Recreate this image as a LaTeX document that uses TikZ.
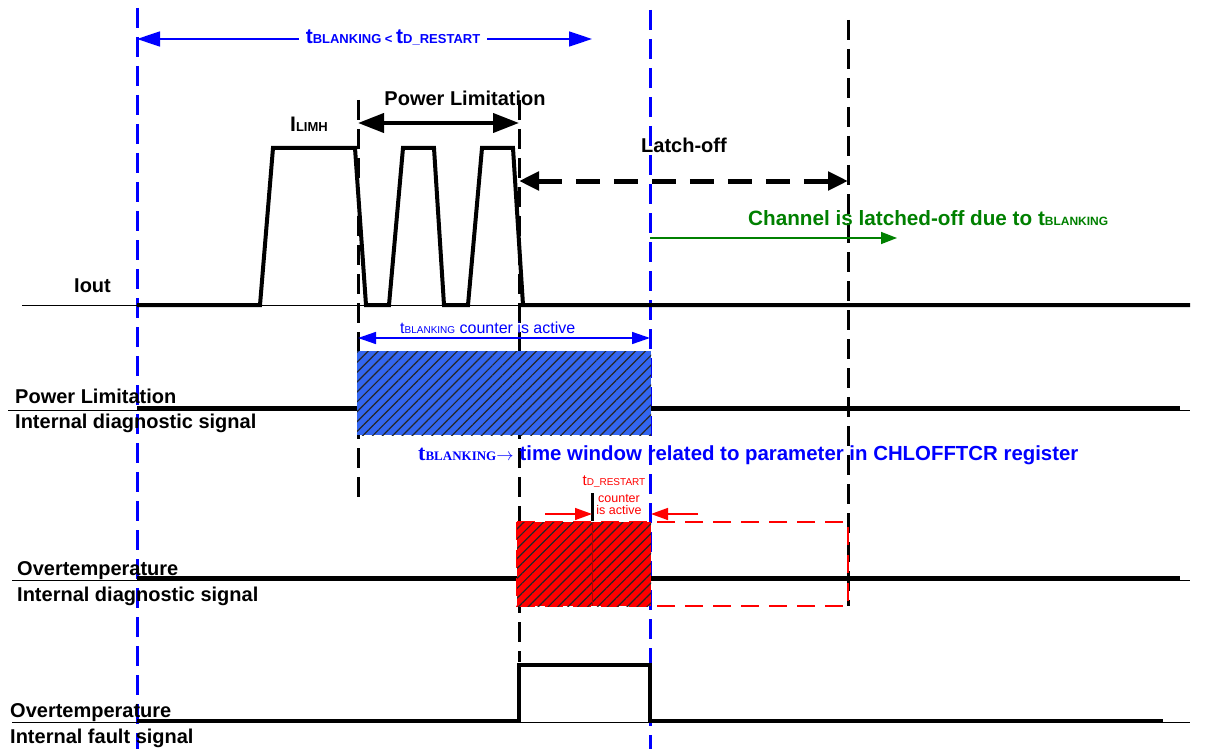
\documentclass[tikz,border=0pt]{standalone}
\usepackage{fontspec}
\setmainfont{Liberation Sans}
\newfontfamily\timesfont{Liberation Serif}
\usetikzlibrary{arrows.meta,patterns.meta,positioning,calc}
\definecolor{hatchblue}{RGB}{51,102,240}
\definecolor{chgreen}{RGB}{0,128,0}
\newcommand{\fs}[2]{{\fontsize{#1}{#1}\selectfont #2}}
\tikzset{
  marker/.style={
    line width=3pt,
    dash pattern=on 20pt off 9pt
  },
  wave/.style={
    line width=4pt,
    line join=miter
  },
  axis/.style={
    line width=1pt
  },
  lbl/.style={
    font=\bfseries\fontsize{20}{20}\selectfont,
    anchor=base west,
    inner sep=0pt
  },
  bigtip/.style={
    {Triangle[length=26pt,width=19pt]}-{Triangle[length=26pt,width=19pt]},
    line width=4pt
  },
  smalltip/.style={
    -{Triangle[length=#1,width=12pt]},
    line width=1.5pt
  },
  hatch/.style={
    pattern={Lines[angle=45,distance=7pt,line width=1.2pt]},
    pattern color=black!85
  },
}

\begin{document}
\begin{tikzpicture}[x=1pt,y=-1pt]
  \useasboundingbox (0,0) rectangle (1205,749);
  % timing markers
  \draw[marker,blue] (137,8) -- (137,749);
  \draw[marker,blue] (650,10) -- (650,749);
  \foreach \x/\a/\b in {358/100/500, 519/100/662, 848/20/606}{
    \draw[marker] (\x,\a) -- (\x,\b);
  }
  \draw[line width=3pt] (592,493) -- (592,521);

  % Iout
  \draw[axis] (22,305) -- (1190,305);
  \draw[wave] (137,305) -- (260,305) -- (273,148) -- (355,148) -- (366,305)
    -- (389,305) -- (403,148) -- (434,148) -- (444,305)
    -- (468,305) -- (482,148) -- (513,148) -- (523,305) -- (1190,305);

  % power limitation diagnostic
  \draw[axis] (8,410) -- (1190,410);
  \draw[wave] (137,408) -- (358,408);
  \draw[wave] (650,408) -- (1180,408);
  \fill[hatchblue] (357,351) rectangle (651,435);
  \path[hatch] (357,351) rectangle (651,435);

  % overtemperature diagnostic
  \draw[axis] (12,580) -- (1190,580);
  \draw[wave] (137,578) -- (517,578);
  \draw[wave] (650,578) -- (1180,578);
  \draw[red,line width=2.8pt,dash pattern=on 18pt off 10pt] (517,522) rectangle (848,606);
  \fill[red] (517,522) rectangle (651,606);
  \path[hatch] (517,522) rectangle (651,606);
  \draw[red!70!black,line width=1pt] (592,522) -- (592,606);

  % overtemperature fault
  \draw[axis] (12,722) -- (1190,722);
  \draw[wave] (137,721) -- (519,721) -- (519,665) -- (650,665) -- (650,721) -- (1163,721);

  % arrows
  \coordinate (bl-l) at (137,39);
  \coordinate (bl-r) at (592,39);
  \draw[blue,line width=1.5pt,{Triangle[length=23pt,width=15pt]}-{Triangle[length=23pt,width=15pt]}] (bl-l) -- (bl-r);
  \node[fill=white,text=blue,font=\bfseries,inner xsep=7pt,anchor=base] (blrel) at (393,44)
    {\fs{21}{t}\fs{13}{BLANKING < }\fs{21}{t}\fs{13}{D\_RESTART}};

  \coordinate (pl-l) at (358,123);
  \coordinate (pl-r) at (519,123);
  \draw[bigtip] (pl-l) -- (pl-r);
  \node[font=\bfseries\fontsize{20}{20}\selectfont,anchor=base,inner sep=0pt] (pltop) at (465,106) {Power Limitation};
  \node[anchor=base west,inner sep=0pt,font=\bfseries] (ilimh) at (290,132) {\fs{21}{I}\fs{13}{LIMH}};

  \coordinate (lo-l) at (519,181);
  \coordinate (lo-r) at (848,181);
  \draw[line width=5pt,dash pattern=on 24pt off 14pt,
    {Triangle[length=20pt,width=18pt]}-{Triangle[length=20pt,width=18pt]}] (lo-l) -- (lo-r);
  \node[lbl] (latch) at (641,153) {Latch-off};

  \coordinate (cl-l) at (650,238);
  \coordinate (cl-r) at (897,238);
  \draw[chgreen,smalltip=16pt] (cl-l) -- (cl-r);
  \node[anchor=base west,inner sep=0pt,text=chgreen,font=\bfseries] (chan) at (748,225)
    {\fs{20.7}{Channel is latched-off due to t}\fs{12}{BLANKING}};

  \coordinate (bc-l) at (358,338);
  \coordinate (bc-r) at (650,338);
  \draw[blue,line width=1.5pt,{Triangle[length=18pt,width=12pt]}-{Triangle[length=18pt,width=12pt]}] (bc-l) -- (bc-r);
  \node[anchor=base west,inner sep=0pt,text=blue] (bcount) at (400,333)
    {\fs{16}{t}\fs{10}{BLANKING}\fs{16}{ counter is active}};

  \node[anchor=base west,inner sep=0pt,text=blue] (twin) at (418,460)
    {{\timesfont\bfseries\fs{22}{t}\fs{13}{BLANKING}}\fs{19}{$\rightarrow$}\hspace{6pt}\bfseries\fs{20.4}{time window related to parameter in CHLOFFTCR register}};

  \coordinate (rc-a) at (545,514);
  \coordinate (rc-b) at (592,514);
  \coordinate (rc-c) at (698,514);
  \coordinate (rc-d) at (651,514);
  \draw[red,smalltip=17pt] (rc-a) -- (rc-b);
  \draw[red,smalltip=17pt] (rc-c) -- (rc-d);
  \node[anchor=base,inner sep=0pt,text=red] (rrest) at (614,485) {\fs{15}{t}\fs{10}{D\_RESTART}};
  \node[anchor=base,inner sep=0pt,text=red] (rcnt) at (619,502) {\fs{12.5}{counter}};
  \node[anchor=base,inner sep=0pt,text=red] (ract) at (619,514) {\fs{12.5}{is active}};

  % signal names
  \node[lbl] (iout) at (74,292) {Iout};
  \node[lbl] (pl1) at (15,403) {Power Limitation};
  \node[lbl] (pl2) at (15,428) {Internal diagnostic signal};
  \node[lbl] (ot1) at (17,575) {Overtemperature};
  \node[lbl] (ot2) at (17,601) {Internal diagnostic signal};
  \node[lbl] (of1) at (10,717) {Overtemperature};
  \node[lbl] (of2) at (10,743) {Internal fault signal};
\end{tikzpicture}
\end{document}
